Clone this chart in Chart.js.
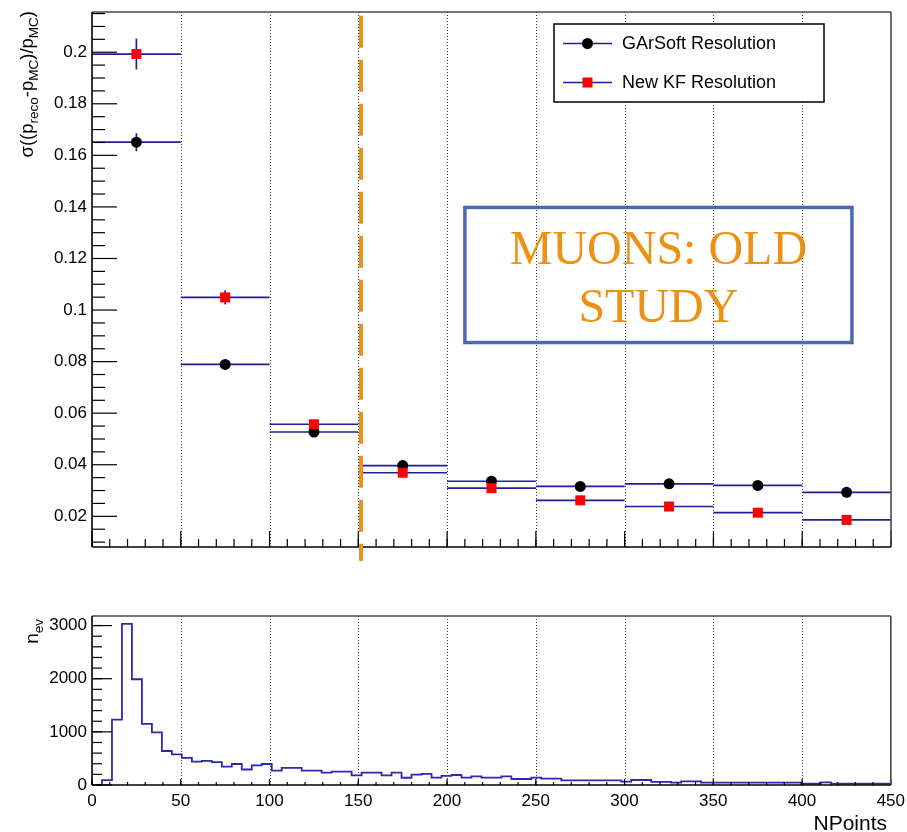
<!DOCTYPE html>
<html>
<head>
<meta charset="utf-8">
<title>NPoints resolution</title>
<script src="https://cdn.jsdelivr.net/npm/chart.js@4.4.1/dist/chart.umd.min.js"></script>
<style>
  html, body { margin: 0; padding: 0; background: #ffffff; }
  #wrap { position: relative; width: 907px; height: 832px; overflow: hidden; }
  #resCanvas { position: absolute; left: 0; top: 0; }
  #nevCanvas { position: absolute; left: 0; top: 570px; }
</style>
</head>
<body>
<div id="wrap">
  <canvas id="resCanvas" width="907" height="570"></canvas>
  <canvas id="nevCanvas" width="907" height="262"></canvas>
</div>
<script>
// ---------------- data ----------------
// NPoints bins of the resolution study (centre of each 50-wide bin)
const nPointsBinCenters = [25, 75, 125, 175, 225, 275, 325, 375, 425];
const nPointsBinHalfWidth = 25;

// sigma((p_reco - p_MC)/p_MC) per bin
const garsoftRes = [0.1651, 0.0789, 0.0527, 0.0397, 0.0336, 0.0316, 0.0326, 0.0320, 0.0293];
const garsoftErr = [0.0035, 0.0012, 0.0008, 0.0007, 0.0006, 0.0006, 0.0006, 0.0006, 0.0006];
const newKfRes   = [0.1993, 0.1049, 0.0557, 0.0369, 0.0309, 0.0262, 0.0238, 0.0214, 0.0186];
const newKfErr   = [0.0060, 0.0027, 0.0009, 0.0007, 0.0006, 0.0005, 0.0005, 0.0005, 0.0005];

// axis ticks
const resTickValues = [0.02, 0.04, 0.06, 0.08, 0.1, 0.12, 0.14, 0.16, 0.18, 0.2];
const resTickLabels = ['0.02', '0.04', '0.06', '0.08', '0.1', '0.12', '0.14', '0.16', '0.18', '0.2'];
const nPointsTickValues = [0, 50, 100, 150, 200, 250, 300, 350, 400, 450];
const nPointsTickLabels = ['0', '50', '100', '150', '200', '250', '300', '350', '400', '450'];
const nevTickValues = [0, 1000, 2000, 3000];
const nevTickLabels = ['0', '1000', '2000', '3000'];

// event count histogram: 80 bins over [0, 450]
const nevHistLow = 0;
const nevHistHigh = 450;
const nevCounts = [
     0,   90, 1230, 3030, 1990, 1150,  990,  640,  575,  510,
   440,  455,  430,  345,  395,  292,  368,  395,  270,  322,
   322,  270,  270,  231,  250,  250,  182,  232,  231,  181,
   231,  136,  195,  210,  137,  170,  188,  137,  162,  137,
   137,  162,  113,  113,  137,  119,  119,   88,   88,   88,
    88,   88,   88,   63,   94,   94,   58,   58,   45,   68,
    68,   44,   44,   44,   44,   44,   44,   44,   44,   44,
    44,   25,   25,   50,   25,   25,   25,   25,   25,   25
];

// NPoints cut marked on the resolution plot
const cutNPoints = 151.5;

// ---------------- styling ----------------
const SANS = "'Liberation Sans', Arial, Helvetica, sans-serif";
const SERIF = "'Liberation Serif', 'Times New Roman', serif";
const NAVY = '#1f1f9e';
const ORANGE = '#ec9114';
const BOXBLUE = '#4a69b1';

Chart.defaults.font.family = SANS;
Chart.defaults.font.size = 17;
Chart.defaults.color = '#000000';

// ---------------- helpers ----------------
function strokeLine(ctx, x1, y1, x2, y2) {
  ctx.beginPath();
  ctx.moveTo(x1, y1);
  ctx.lineTo(x2, y2);
  ctx.stroke();
}

function range(start, stop, step) {
  const out = [];
  for (let v = start; v <= stop + step * 1e-6; v += step) out.push(+v.toFixed(6));
  return out;
}

function drawMarker(ctx, style, x, y) {
  ctx.save();
  if (style === 'circle') {
    ctx.fillStyle = '#000000';
    ctx.beginPath();
    ctx.arc(x, y, 5.5, 0, Math.PI * 2);
    ctx.fill();
  } else {
    ctx.fillStyle = '#ff0000';
    ctx.fillRect(x - 5, y - 5, 10, 10);
  }
  ctx.restore();
}

// dotted vertical grid lines at the inner major ticks
function drawDottedGrid(chart) {
  const { ctx, chartArea: a, scales: { x } } = chart;
  ctx.save();
  ctx.strokeStyle = '#3a3a3a';
  ctx.lineWidth = 1;
  ctx.setLineDash([1, 2]);
  nPointsTickValues.forEach(v => {
    if (v <= nevHistLow || v >= nevHistHigh) return;
    const px = Math.round(x.getPixelForValue(v)) + 0.5;
    strokeLine(ctx, px, a.top, px, a.bottom);
  });
  ctx.restore();
}

// frame with inward ticks
function drawFrame(chart, cfg) {
  const { ctx, chartArea: a, scales: { x, y } } = chart;
  ctx.save();
  ctx.strokeStyle = '#000000';
  ctx.lineWidth = 1.2;
  cfg.xMinor.forEach(v => {
    const px = x.getPixelForValue(v);
    strokeLine(ctx, px, a.bottom, px, a.bottom - cfg.xMinorLen);
  });
  cfg.xMajor.forEach(v => {
    const px = x.getPixelForValue(v);
    strokeLine(ctx, px, a.bottom, px, a.bottom - cfg.xMajorLen);
  });
  cfg.yMinor.forEach(v => {
    const py = y.getPixelForValue(v);
    strokeLine(ctx, a.left, py, a.left + cfg.yMinorLen, py);
  });
  cfg.yMajor.forEach(v => {
    const py = y.getPixelForValue(v);
    strokeLine(ctx, a.left, py, a.left + cfg.yMajorLen, py);
  });
  ctx.lineWidth = 1.6;
  ctx.strokeStyle = '#4a4a4a';
  strokeLine(ctx, a.left, a.top, a.right, a.top);
  strokeLine(ctx, a.right, a.top, a.right, a.bottom);
  ctx.strokeStyle = '#000000';
  strokeLine(ctx, a.left, a.top, a.left, a.bottom);
  strokeLine(ctx, a.left, a.bottom, a.right, a.bottom);
  ctx.restore();
}

// rotated axis title with subscripts, right-aligned at yEnd
function drawVerticalTitle(ctx, parts, xBase, yEnd, mainSize, subSize) {
  ctx.save();
  ctx.translate(xBase, yEnd);
  ctx.rotate(-Math.PI / 2);
  ctx.fillStyle = '#000000';
  ctx.textBaseline = 'alphabetic';
  ctx.textAlign = 'left';
  let total = 0;
  parts.forEach(p => {
    ctx.font = (p.sub ? subSize : mainSize) + 'px ' + SANS;
    p.w = ctx.measureText(p.t).width;
    total += p.w;
  });
  let cx = -total;
  parts.forEach(p => {
    ctx.font = (p.sub ? subSize : mainSize) + 'px ' + SANS;
    ctx.fillText(p.t, cx, p.sub ? 5 : 0);
    cx += p.w;
  });
  ctx.restore();
}

// ---------------- resolution panel ----------------
const resMinorY = range(0.01, 0.215, 0.005).filter(v => !resTickValues.some(t => Math.abs(t - v) < 1e-9));
const npMinorX = range(0, 450, 10);

const resolutionDecor = {
  id: 'resolutionDecor',
  beforeDatasetsDraw(chart) {
    const { ctx, scales: { x, y } } = chart;
    drawDottedGrid(chart);
    // bin-width bars and vertical errors
    ctx.save();
    ctx.strokeStyle = NAVY;
    ctx.lineWidth = 1.7;
    chart.data.datasets.forEach(ds => {
      ds.data.forEach((p, i) => {
        const px = x.getPixelForValue(p.x);
        const py = y.getPixelForValue(p.y);
        strokeLine(ctx, x.getPixelForValue(p.x - nPointsBinHalfWidth), py,
                        x.getPixelForValue(p.x + nPointsBinHalfWidth), py);
        strokeLine(ctx, px, y.getPixelForValue(p.y + ds.errors[i]),
                        px, y.getPixelForValue(p.y - ds.errors[i]));
      });
    });
    ctx.restore();
  },
  afterDatasetsDraw(chart) {
    const { ctx, scales: { x, y } } = chart;
    drawFrame(chart, {
      xMajor: nPointsTickValues, xMinor: npMinorX, xMajorLen: 16, xMinorLen: 8,
      yMajor: resTickValues, yMinor: resMinorY, yMajorLen: 25, yMinorLen: 13
    });

    // NPoints cut line
    ctx.save();
    ctx.strokeStyle = ORANGE;
    ctx.lineWidth = 4;
    ctx.setLineDash([32, 12]);
    const cx = x.getPixelForValue(cutNPoints);
    strokeLine(ctx, cx, y.getPixelForValue(0.2141), cx, y.getPixelForValue(0.0027));
    ctx.restore();

    // study label box
    ctx.save();
    const bx1 = x.getPixelForValue(210), bx2 = x.getPixelForValue(428);
    const by1 = y.getPixelForValue(0.1398), by2 = y.getPixelForValue(0.0874);
    ctx.strokeStyle = BOXBLUE;
    ctx.lineWidth = 3.5;
    ctx.strokeRect(bx1, by1, bx2 - bx1, by2 - by1);
    ctx.fillStyle = ORANGE;
    ctx.font = '48px ' + SERIF;
    ctx.textAlign = 'center';
    ctx.textBaseline = 'alphabetic';
    const mid = (bx1 + bx2) / 2;
    ctx.fillText('MUONS: OLD', mid, y.getPixelForValue(0.1179));
    ctx.fillText('STUDY', mid, y.getPixelForValue(0.0953));
    ctx.restore();

    // legend
    ctx.save();
    ctx.fillStyle = '#ffffff';
    ctx.fillRect(554, 24, 270, 78);
    ctx.strokeStyle = '#000000';
    ctx.lineWidth = 1.5;
    ctx.strokeRect(554, 24, 270, 78);
    const entries = [
      { label: 'GArSoft Resolution', style: 'circle', yc: 43.5 },
      { label: 'New KF Resolution', style: 'rect', yc: 82.5 }
    ];
    entries.forEach(e => {
      ctx.strokeStyle = NAVY;
      ctx.lineWidth = 1.6;
      strokeLine(ctx, 563, e.yc, 612, e.yc);
      drawMarker(ctx, e.style, 587.5, e.yc);
      ctx.fillStyle = '#000000';
      ctx.font = '18px ' + SANS;
      ctx.textAlign = 'left';
      ctx.textBaseline = 'middle';
      ctx.fillText(e.label, 622, e.yc + 1);
    });
    ctx.restore();

    // y title
    drawVerticalTitle(ctx, [
      { t: 'σ((p' }, { t: 'reco', sub: true }, { t: '-p' }, { t: 'MC', sub: true },
      { t: ')/p' }, { t: 'MC', sub: true }, { t: ')' }
    ], 33, 11, 18.5, 13.5);
  }
};

new Chart(document.getElementById('resCanvas'), {
  type: 'scatter',
  data: {
    datasets: [
      {
        label: 'New KF Resolution',
        data: nPointsBinCenters.map((v, i) => ({ x: v, y: newKfRes[i] })),
        errors: newKfErr,
        pointStyle: 'rect',
        pointRadius: 7.07,
        backgroundColor: '#ff0000',
        borderColor: '#ff0000',
        borderWidth: 0
      },
      {
        label: 'GArSoft Resolution',
        data: nPointsBinCenters.map((v, i) => ({ x: v, y: garsoftRes[i] })),
        errors: garsoftErr,
        pointStyle: 'circle',
        pointRadius: 5.5,
        backgroundColor: '#000000',
        borderColor: '#000000',
        borderWidth: 0
      }
    ]
  },
  options: {
    responsive: false,
    animation: false,
    devicePixelRatio: 1,
    events: [],
    layout: { padding: { top: 12, right: 16, left: 0, bottom: 0 } },
    plugins: { legend: { display: false }, tooltip: { enabled: false } },
    scales: {
      x: {
        type: 'linear', min: 0, max: 450,
        afterBuildTicks: s => { s.ticks = nPointsTickValues.map(v => ({ value: v })); },
        ticks: { display: false },
        grid: { display: false },
        border: { display: false },
        afterFit: s => { s.height = 23; }
      },
      y: {
        type: 'linear', min: 0.0081, max: 0.2156,
        afterBuildTicks: s => { s.ticks = resTickValues.map(v => ({ value: v })); },
        ticks: { callback: (v, i) => resTickLabels[i], padding: 0 },
        grid: { display: false, drawTicks: true, tickLength: 5 },
        border: { display: false },
        afterFit: s => { s.width = 92; }
      }
    }
  },
  plugins: [resolutionDecor]
});

// ---------------- event count panel ----------------
const binWidth = (nevHistHigh - nevHistLow) / nevCounts.length;
const nevSteps = nevCounts.map((c, i) => ({ x: nevHistLow + i * binWidth, y: c }));
nevSteps.push({ x: nevHistHigh, y: nevCounts[nevCounts.length - 1] });

const nevMinorY = range(0, 3000, 200);

const nevDecor = {
  id: 'nevDecor',
  beforeDatasetsDraw(chart) {
    drawDottedGrid(chart);
  },
  afterDatasetsDraw(chart) {
    const { ctx } = chart;
    drawFrame(chart, {
      xMajor: nPointsTickValues, xMinor: npMinorX, xMajorLen: 6, xMinorLen: 3,
      yMajor: nevTickValues, yMinor: nevMinorY, yMajorLen: 20, yMinorLen: 10
    });
    drawVerticalTitle(ctx, [{ t: 'n' }, { t: 'ev', sub: true }], 38, 49, 19, 13.5);
    ctx.save();
    ctx.fillStyle = '#000000';
    ctx.font = '21px ' + SANS;
    ctx.textAlign = 'right';
    ctx.textBaseline = 'alphabetic';
    ctx.fillText('NPoints', 887, 260);
    ctx.restore();
  }
};

new Chart(document.getElementById('nevCanvas'), {
  type: 'scatter',
  data: {
    datasets: [{
      label: 'n_ev',
      data: nevSteps,
      showLine: true,
      stepped: true,
      pointRadius: 0,
      borderColor: '#2a2aaa',
      borderWidth: 1.8,
      fill: false
    }]
  },
  options: {
    responsive: false,
    animation: false,
    devicePixelRatio: 1,
    events: [],
    layout: { padding: { top: 46, right: 16, left: 0, bottom: 0 } },
    plugins: { legend: { display: false }, tooltip: { enabled: false } },
    scales: {
      x: {
        type: 'linear', min: nevHistLow, max: nevHistHigh,
        afterBuildTicks: s => { s.ticks = nPointsTickValues.map(v => ({ value: v })); },
        ticks: { callback: (v, i) => nPointsTickLabels[i], padding: 2, maxRotation: 0, autoSkip: false },
        grid: { display: false, drawTicks: true, tickLength: 4 },
        border: { display: false },
        afterFit: s => { s.height = 47; }
      },
      y: {
        type: 'linear', min: 0, max: 3180,
        afterBuildTicks: s => { s.ticks = nevTickValues.map(v => ({ value: v })); },
        ticks: { callback: (v, i) => nevTickLabels[i], padding: 0 },
        grid: { display: false, drawTicks: true, tickLength: 5 },
        border: { display: false },
        afterFit: s => { s.width = 92; }
      }
    }
  },
  plugins: [nevDecor]
});
</script>
</body>
</html>
